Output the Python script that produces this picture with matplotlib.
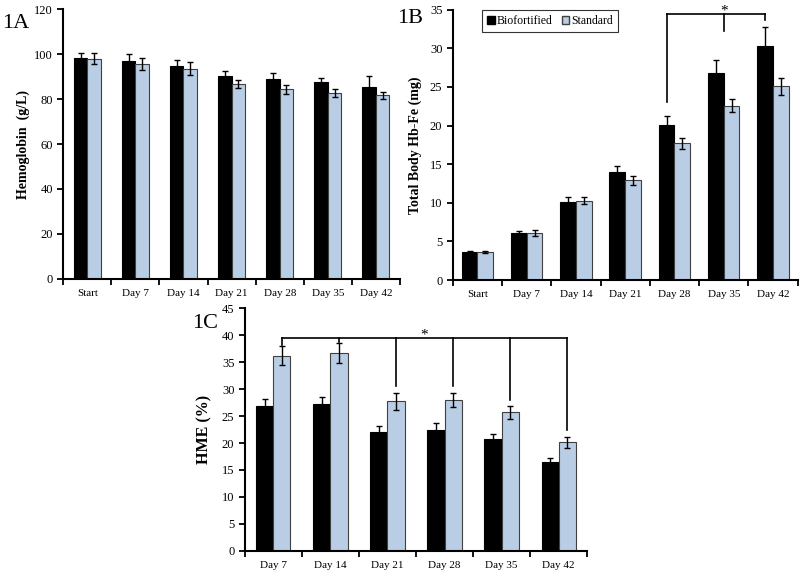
import numpy as np
import matplotlib
matplotlib.use('Agg')
import matplotlib.pyplot as plt
from matplotlib.patches import Patch

plt.rcParams['font.family'] = ['Liberation Serif', 'DejaVu Serif']

days_ab = ['Start', 'Day 7', 'Day 14', 'Day 21', 'Day 28', 'Day 35', 'Day 42']
days_c = ['Day 7', 'Day 14', 'Day 21', 'Day 28', 'Day 35', 'Day 42']

# 1A hemoglobin (g/L)
hb_bio = [98.1, 96.9, 94.8, 90.2, 89.0, 87.4, 85.5]
hb_bio_err = [2.2, 3.1, 2.8, 2.1, 2.5, 2.1, 4.6]
hb_std = [98.0, 95.8, 93.6, 86.8, 84.3, 82.8, 81.6]
hb_std_err = [2.3, 2.7, 3.0, 1.9, 2.1, 1.9, 1.5]

# 1B total body Hb-Fe (mg)
fe_bio = [3.65, 6.05, 10.15, 14.0, 20.1, 26.8, 30.3]
fe_bio_err = [0.1, 0.35, 0.55, 0.8, 1.2, 1.7, 2.5]
fe_std = [3.6, 6.1, 10.25, 12.9, 17.7, 22.55, 25.1]
fe_std_err = [0.1, 0.35, 0.45, 0.6, 0.75, 0.85, 1.1]

# 1C HME (%)
hme_bio = [26.9, 27.25, 22.0, 22.5, 20.7, 16.4]
hme_bio_err = [1.3, 1.25, 1.1, 1.2, 1.0, 0.9]
hme_std = [36.2, 36.65, 27.7, 27.9, 25.7, 20.1]
hme_std_err = [1.8, 1.85, 1.5, 1.3, 1.2, 1.0]

# significance brackets (bar index, side offset, lower end of the drop)
br_b_top = 34.4
br_b_drops = [(4, -1, 23.1), (5, 0, 32.2), (6, -1, 33.7)]
br_c_top = 39.4
br_c_drops = [(0, 1, 38.2), (1, 1, 38.8), (2, 1, 30.5), (3, 1, 30.5), (4, 1, 28.0), (5, 1, 22.4)]

BLUE = '#b9cde5'


def bar_panel(ax, labels, bio, bio_err, std, std_err, w, ymax, ystep, ylabel, ylsize):
    x = np.arange(len(labels))
    ax.bar(x - w / 2, bio, w, color='black', edgecolor='black', linewidth=0.8)
    ax.bar(x + w / 2, std, w, color=BLUE, edgecolor='#404040', linewidth=0.8)
    ax.errorbar(x - w / 2, bio, yerr=bio_err, fmt='none', ecolor='black',
                elinewidth=1, capsize=2.5, capthick=1)
    ax.errorbar(x + w / 2, std, yerr=std_err, fmt='none', ecolor='black',
                elinewidth=1, capsize=2.5, capthick=1)
    ax.set_xlim(-0.5, len(labels) - 0.5)
    ax.set_ylim(0, ymax)
    ax.set_yticks(np.arange(0, ymax + 0.1, ystep))
    ax.set_xticks(x)
    ax.set_xticklabels(labels, fontsize=8)
    ax.set_xticks(np.arange(len(labels) + 1) - 0.5, minor=True)
    ax.tick_params(axis='x', which='major', length=0, pad=7)
    ax.tick_params(axis='x', which='minor', length=4, width=1.3, direction='out')
    ax.tick_params(axis='y', length=4, width=1.3, labelsize=9, direction='out')
    for s in ['top', 'right']:
        ax.spines[s].set_visible(False)
    for s in ['left', 'bottom']:
        ax.spines[s].set_linewidth(1.5)
    ax.set_ylabel(ylabel, fontsize=ylsize, fontweight='bold')
    return x


fig = plt.figure(figsize=(8, 5.75), dpi=100)

# 1A
axA = fig.add_axes([0.079, 0.515, 0.421, 0.469])
bar_panel(axA, days_ab, hb_bio, hb_bio_err, hb_std, hb_std_err, 0.28, 120, 20,
          'Hemoglobin  (g/L)', 10)
axA.yaxis.set_label_coords(-0.1, 0.5)
fig.text(0.003, 0.96, '1A', fontsize=16, va='center', ha='left')

# 1B
wb = 0.32
axB = fig.add_axes([0.566, 0.513, 0.431, 0.47])
bar_panel(axB, days_ab, fe_bio, fe_bio_err, fe_std, fe_std_err, wb, 35, 5,
          'Total Body Hb-Fe (mg)', 10)
axB.yaxis.set_label_coords(-0.09, 0.5)
fig.text(0.497, 0.968, '1B', fontsize=16, va='center', ha='left')
xs = [i + k * wb / 2 for i, k, _ in br_b_drops]
axB.plot([xs[0], xs[-1]], [br_b_top, br_b_top], color='black', lw=1.2, clip_on=False)
for (i, k, low), xv in zip(br_b_drops, xs):
    axB.plot([xv, xv], [br_b_top, low], color='black', lw=1.2, clip_on=False)
axB.text(5, br_b_top, '*', ha='center', va='baseline', fontsize=11, clip_on=False)
leg = axB.legend(handles=[Patch(facecolor='black', edgecolor='black', label='Biofortified'),
                          Patch(facecolor=BLUE, edgecolor='#404040', label='Standard')],
                 loc='upper left', bbox_to_anchor=(0.085, 1.0), ncol=2, fontsize=8.5,
                 frameon=True, fancybox=False, handlelength=0.6, handleheight=0.6,
                 handletextpad=0.2, columnspacing=0.8, borderpad=0.45, borderaxespad=0)
leg.get_frame().set_edgecolor('black')
leg.get_frame().set_linewidth(0.8)

# 1C
wc = 0.3
axC = fig.add_axes([0.306, 0.042, 0.428, 0.422])
bar_panel(axC, days_c, hme_bio, hme_bio_err, hme_std, hme_std_err, wc, 45, 5,
          'HME (%)', 11.5)
axC.yaxis.set_label_coords(-0.095, 0.5)
fig.text(0.24, 0.437, '1C', fontsize=16, va='center', ha='left')
xs = [i + k * wc / 2 for i, k, _ in br_c_drops]
axC.plot([xs[0], xs[-1]], [br_c_top, br_c_top], color='black', lw=1.2)
for (i, k, low), xv in zip(br_c_drops, xs):
    axC.plot([xv, xv], [br_c_top, low], color='black', lw=1.2)
axC.text((xs[0] + xs[-1]) / 2, br_c_top, '*', ha='center', va='baseline', fontsize=11)

fig.savefig('out.png', dpi=100)
